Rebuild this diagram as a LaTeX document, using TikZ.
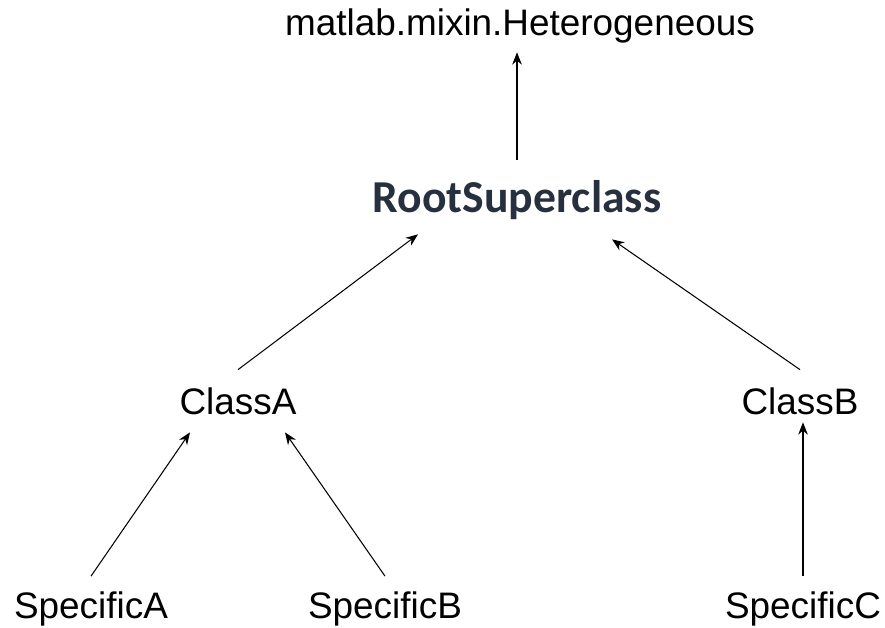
\documentclass[tikz,border=0pt]{standalone}
\usepackage{fontspec}
\setmainfont{Liberation Sans}
\newfontfamily\calibri{Carlito}
\usepackage{tikz}
\usetikzlibrary{arrows.meta}
\definecolor{rootgray}{RGB}{38,48,62}
\tikzset{
  cls/.style={inner sep=0pt,text height=15pt,text depth=0pt,
    font=\fontsize{21}{25}\selectfont,minimum height=1.2cm},
  inherit/.style={-{Stealth[length=7pt,width=5.5pt]},line width=0.6pt}
}
\begin{document}
\begin{tikzpicture}[x=0.02cm,y=-0.02cm]
\useasboundingbox (0,0) rectangle (885,628);
\node[cls,minimum height=1.2cm] (het) at (520,22) {matlab.mixin.Heterogeneous};
\node[cls,text height=18pt,minimum height=1.48cm,text=rootgray,
  font=\calibri\bfseries\fontsize{26}{30}\selectfont] (root) at (517,197) {RootSuperclass};
\node[cls,minimum height=1.24cm] (classA) at (238,401) {ClassA};
\node[cls,minimum height=1.24cm] (classB) at (800,401) {ClassB};
\node[cls,minimum height=1.14cm] (specA) at (91,605) {SpecificA};
\node[cls,minimum height=1.14cm] (specB) at (385,605) {SpecificB};
\node[cls,minimum height=1.14cm] (specC) at (803,605) {SpecificC};
\draw[inherit] (root.north) -- (root.north |- het.south);
\draw[inherit] (classA.north) -- ([xshift=-1.98cm]root.south);
\draw[inherit] (classB.north) -- ([xshift=1.9cm,yshift=-0.1cm]root.south);
\draw[inherit] (specA.north) -- ([xshift=-0.96cm]classA.south);
\draw[inherit] (specB.north) -- ([xshift=0.94cm]classA.south);
\draw[inherit] (specC.north) -- ([yshift=0.2cm]specC.north |- classB.south);
\end{tikzpicture}
\end{document}
